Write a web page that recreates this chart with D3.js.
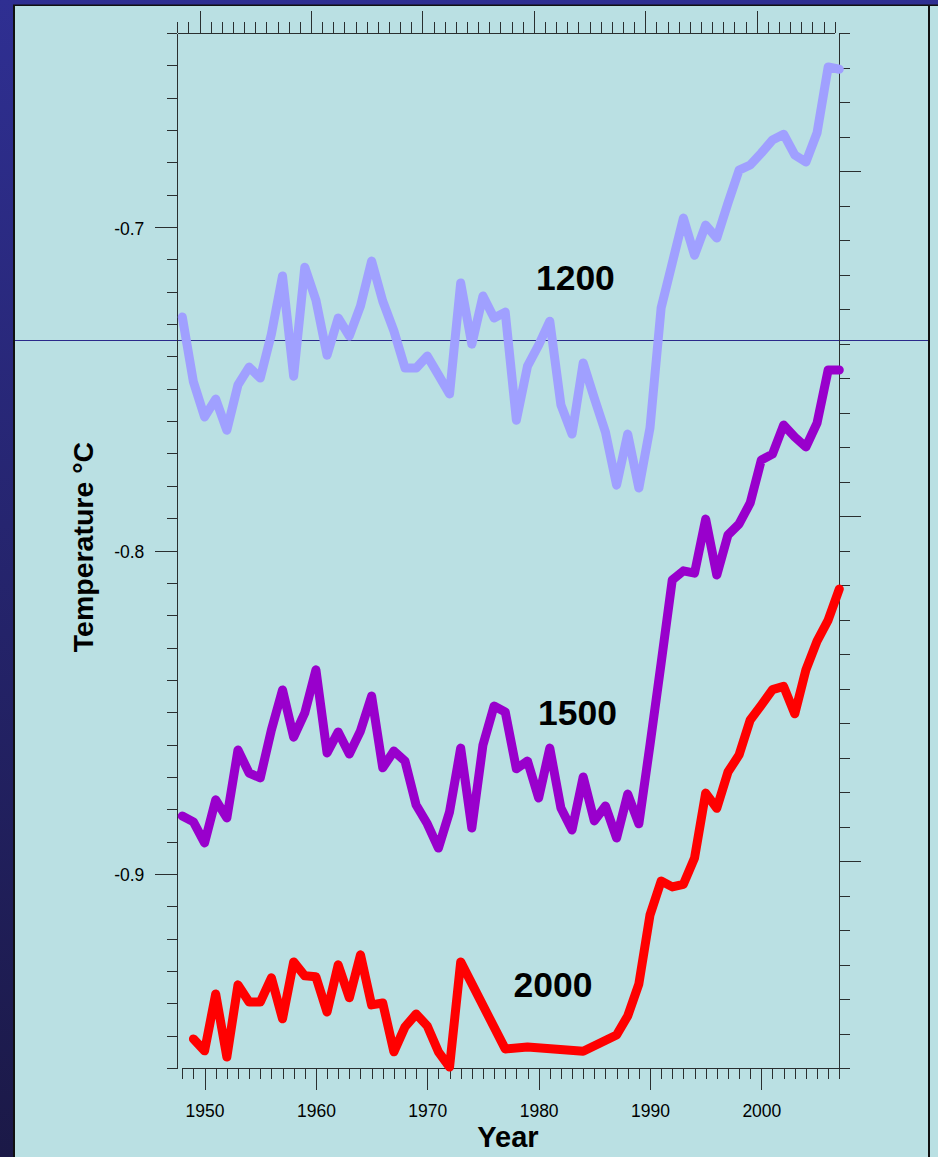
<!DOCTYPE html>
<html>
<head>
<meta charset="utf-8">
<script src="https://cdn.jsdelivr.net/npm/d3@7"></script>
<style>
  html, body { margin: 0; padding: 0; background: #2b2b88; }
  svg { display: block; }
  text { font-family: "Liberation Sans", Arial, sans-serif; fill: #000; }
</style>
</head>
<body>
<script>
// Annual temperature anomaly series (°C) for three reference levels
const years = d3.range(1948, 2008);

const series1200 = [
  -0.7278, -0.7479, -0.7587, -0.7532, -0.7628, -0.7488, -0.7433, -0.7467, -0.7331, -0.7151,
  -0.7461, -0.7124, -0.7226, -0.7396, -0.7281, -0.7337, -0.7244, -0.7105, -0.7229, -0.7321,
  -0.7436, -0.7436, -0.7399, -0.7457, -0.7516, -0.7173, -0.7362, -0.7213, -0.7281, -0.7263,
  -0.7597, -0.7430, -0.7365, -0.7291, -0.7550, -0.7640, -0.7420, -0.7529, -0.7634, -0.7798,
  -0.7640, -0.7807, -0.7621, -0.7250, -0.7111, -0.6972, -0.7087, -0.6994, -0.7034, -0.6926,
  -0.6824, -0.6808, -0.6771, -0.6731, -0.6713, -0.6777, -0.6799, -0.6709, -0.6505, -0.6512
];

const series1500 = [
  -0.8821, -0.8839, -0.8904, -0.8771, -0.8827, -0.8617, -0.8688, -0.8703, -0.8555, -0.8431,
  -0.8577, -0.8502, -0.8369, -0.8626, -0.8561, -0.8629, -0.8558, -0.8450, -0.8672, -0.8620,
  -0.8651, -0.8787, -0.8845, -0.8920, -0.8808, -0.8611, -0.8858, -0.8601, -0.8481, -0.8499,
  -0.8675, -0.8651, -0.8765, -0.8611, -0.8796, -0.8864, -0.8700, -0.8836, -0.8790, -0.8889,
  -0.8753, -0.8845, -0.8601, -0.8348, -0.8091, -0.8063, -0.8070, -0.7903, -0.8076, -0.7952,
  -0.7918, -0.7853, -0.7720, -0.7702, -0.7612, -0.7649, -0.7680, -0.7606, -0.7442, -0.7442
];

// null = no value for that year; the line runs straight across the gap
const series2000 = [
  null,    -0.9510, -0.9547, -0.9371, -0.9566, -0.9343, -0.9396, -0.9396, -0.9321, -0.9448,
  -0.9272, -0.9315, -0.9318, -0.9427, -0.9281, -0.9383, -0.9250, -0.9405, -0.9399, -0.9550,
  -0.9473, -0.9433, -0.9470, -0.9550, -0.9597, -0.9272, null,    null,    null,    -0.9541,
  null,    -0.9535, null,    null,    null,    null,    -0.9548, null,    null,    -0.9498,
  -0.9439, -0.9340, -0.9127, -0.9022, -0.9040, -0.9032, -0.8951, -0.8750, -0.8797, -0.8685,
  -0.8632, -0.8524, -0.8478, -0.8430, -0.8420, -0.8505, -0.8369, -0.8280, -0.8215, -0.8119
];

const seriesNames = ["1200", "1500", "2000"];
const seriesColors = ["#a0a0ff", "#9900cc", "#ff0000"];

const yMajorTicks = [-0.9, -0.8, -0.7];
const yTickLabels = ["-0.9", "-0.8", "-0.7"];
const xMajorTicks = [1950, 1960, 1970, 1980, 1990, 2000];

const W = 938, H = 1157;
const svg = d3.select("body").append("svg").attr("width", W).attr("height", H);

// Frame and panel
const defs = svg.append("defs");
const grad = defs.append("linearGradient").attr("id", "frameGrad")
  .attr("x1", 0).attr("y1", 0).attr("x2", 0).attr("y2", 1);
grad.append("stop").attr("offset", "0%").attr("stop-color", "#2f2f92");
grad.append("stop").attr("offset", "100%").attr("stop-color", "#1b1947");
svg.append("rect").attr("width", W).attr("height", H).attr("fill", "url(#frameGrad)");
svg.append("rect").attr("x", 13).attr("y", 4.5).attr("width", W - 13).attr("height", H).attr("fill", "#111");
svg.append("rect").attr("x", 15).attr("y", 6).attr("width", 913).attr("height", H).attr("fill", "#bae0e3");
svg.append("rect").attr("x", 930).attr("y", 6).attr("width", 8).attr("height", H).attr("fill", "#bae0e3");

// Scales
const x = d3.scaleLinear().domain([1948, 2007]).range([182.3, 839.3]);
const xTop = d3.scaleLinear().domain([1948, 2007]).range([177.3, 834.7]);
const y = d3.scaleLinear().domain([-0.96, -0.64]).range([1068, 33]);
const yRight = d3.scaleLinear().domain([-0.06, 0.24]).range([1068, 33]);

// Reference line across the panel
svg.append("line")
  .attr("x1", 15).attr("x2", 928)
  .attr("y1", 340.5).attr("y2", 340.5)
  .attr("stroke", "#2a2a8a").attr("stroke-width", 1);

const axisColor = "#2a2f30";
function styleAxis(g) {
  g.selectAll("path, line").attr("stroke", axisColor).attr("stroke-width", 1).attr("shape-rendering", "crispEdges");
}

const yMinor = d3.range(0, 33).map(i => +(-0.96 + i * 0.01).toFixed(2));
const rMinor = d3.range(0, 31).map(i => +(-0.06 + i * 0.01).toFixed(2));
const xMinor = years;

// Left axis
svg.append("g").attr("transform", "translate(177.3,0)")
  .call(d3.axisLeft(y).tickValues(yMinor).tickSize(10).tickSizeOuter(0).tickFormat(""))
  .call(styleAxis);
const yl = svg.append("g").attr("transform", "translate(177.3,0)")
  .call(d3.axisLeft(y).tickValues(yMajorTicks).tickSize(22).tickPadding(11).tickSizeOuter(0)
    .tickFormat((d, i) => yTickLabels[i]))
  .call(styleAxis);
yl.select(".domain").remove();
yl.selectAll("text").attr("font-size", 17.5).attr("dy", "0.4em")
  .style("font-family", '"Liberation Sans", Arial, sans-serif').attr("fill", "#000");

// Right axis
svg.append("g").attr("transform", "translate(839.3,0)")
  .call(d3.axisRight(yRight).tickValues(rMinor).tickSize(11).tickSizeOuter(0).tickFormat(""))
  .call(styleAxis);
const yr = svg.append("g").attr("transform", "translate(839.3,0)")
  .call(d3.axisRight(yRight).tickValues([0, 0.1, 0.2]).tickSize(22).tickSizeOuter(0).tickFormat(""))
  .call(styleAxis);
yr.select(".domain").remove();

// Bottom axis
svg.append("g").attr("transform", "translate(0,1068)")
  .call(d3.axisBottom(x).tickValues(xMinor).tickSize(11).tickSizeOuter(0).tickFormat(""))
  .call(styleAxis);
const xb = svg.append("g").attr("transform", "translate(0,1068)")
  .call(d3.axisBottom(x).tickValues(xMajorTicks).tickSize(22).tickPadding(15).tickSizeOuter(0).tickFormat(d3.format("d")))
  .call(styleAxis);
xb.select(".domain").remove();
xb.selectAll("text").attr("font-size", 17.5)
  .style("font-family", '"Liberation Sans", Arial, sans-serif').attr("fill", "#000");

// Top axis
svg.append("g").attr("transform", "translate(0,33.3)")
  .call(d3.axisTop(xTop).tickValues(xMinor).tickSize(11).tickSizeOuter(0).tickFormat(""))
  .call(styleAxis);
const xt = svg.append("g").attr("transform", "translate(0,33.3)")
  .call(d3.axisTop(xTop).tickValues(xMajorTicks).tickSize(22).tickSizeOuter(0).tickFormat(""))
  .call(styleAxis);
xt.select(".domain").remove();

// Series lines
const allSeries = [series1200, series1500, series2000];
const line = d3.line().x(d => x(d.year)).y(d => y(d.value)).curve(d3.curveLinear);

allSeries.forEach((vals, i) => {
  const pts = years.map((yr, j) => ({ year: yr, value: vals[j] })).filter(d => d.value !== null);
  svg.append("path")
    .datum(pts)
    .attr("d", line)
    .attr("fill", "none")
    .attr("stroke", seriesColors[i])
    .attr("stroke-width", 9)
    .attr("stroke-linejoin", "round")
    .attr("stroke-linecap", "round");
});

// Series labels
const labelPos = [
  { year: 1983.3, value: -0.7195 },
  { year: 1983.5, value: -0.8539 },
  { year: 1981.3, value: -0.9382 }
];
seriesNames.forEach((name, i) => {
  svg.append("text")
    .attr("x", x(labelPos[i].year))
    .attr("y", y(labelPos[i].value))
    .attr("text-anchor", "middle")
    .attr("font-size", 35.5)
    .attr("font-weight", "bold")
    .text(name);
});

// Axis titles
svg.append("text")
  .attr("transform", "translate(93,547) rotate(-90)")
  .attr("text-anchor", "middle")
  .attr("font-size", 28.5)
  .attr("font-weight", "bold")
  .text("Temperature °C");

svg.append("text")
  .attr("x", 508)
  .attr("y", 1147)
  .attr("text-anchor", "middle")
  .attr("font-size", 29)
  .attr("font-weight", "bold")
  .text("Year");
</script>
</body>
</html>
